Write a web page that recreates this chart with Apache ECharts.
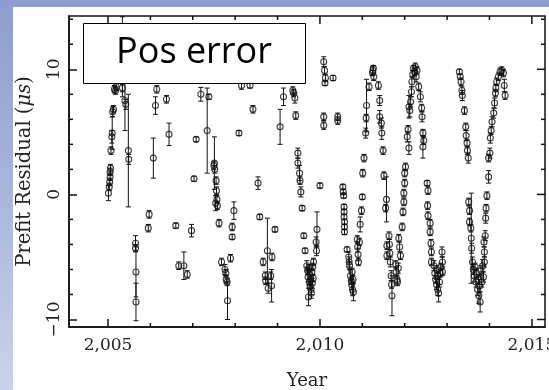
<!DOCTYPE html>
<html>
<head>
<meta charset="utf-8">
<title>Prefit residuals</title>
<script src="https://cdn.jsdelivr.net/npm/echarts@6/dist/echarts.min.js"></script>
<style>
  html, body { margin: 0; padding: 0; }
  #frame {
    position: relative; width: 549px; height: 390px; overflow: hidden;
    background: linear-gradient(to bottom, #8c9dcf 0%, #a9b6dc 50%, #cbd2ea 100%);
  }
  #paper { position: absolute; left: 13px; top: 7px; right: 0; bottom: 0; background: #ffffff; }
  #chart { position: absolute; left: 0; top: 0; width: 549px; height: 390px; }
</style>
</head>
<body>
<div id="frame"><div id="paper"></div><div id="chart"></div></div>
<script>
// Axis ticks and labels
const xMajorTicks = [2005, 2010, 2015];
const xMinorTicks = [2006, 2007, 2008, 2009, 2011, 2012, 2013, 2014];
const yMajorTicks = [-10, 0, 10];
const yMinorTicks = [-8, -6, -4, -2, 2, 4, 6, 8, 12, 14];
const xRange = [2004.08, 2015.31];
const yRange = [-10.6, 14.26];

// Timing residuals per observing season: [year, residual (us), 1-sigma error (us)]
const season2005 = [
  [2005.01, 0.1, 0.6], [2005.03, 0.6, 0.3], [2005.04, 1.0, 0.3], [2005.05, 1.4, 0.3],
  [2005.05, 1.8, 0.3], [2005.06, 2.1, 0.3], [2005.07, 3.5, 0.3], [2005.09, 4.6, 0.5],
  [2005.10, 4.9, 1.3], [2005.11, 6.6, 0.4], [2005.13, 6.8, 0.3], [2005.15, 8.4, 0.3],
  [2005.18, 8.3, 0.3], [2005.19, 8.6, 0.3], [2005.22, 9.6, 0.3], [2005.24, 10.2, 0.3],
  [2005.34, 11.0, 3.2], [2005.34, 8.5, 0.3], [2005.40, 7.5, 2.4], [2005.42, 7.2, 0.4],
  [2005.48, 3.5, 4.5], [2005.49, 2.8, 0.4]
];
const season2006 = [
  [2005.65, -3.9, 0.6], [2005.65, -4.3, 0.3], [2005.66, -6.2, 2.0], [2005.66, -8.6, 1.5],
  [2005.95, -2.7, 0.3], [2005.97, -1.6, 0.3], [2006.07, 2.9, 1.6], [2006.12, 7.1, 0.7],
  [2006.15, 8.4, 0.3], [2006.38, 7.6, 0.3], [2006.44, 4.8, 0.9]
];
const season2007 = [
  [2006.60, -2.5, 0.2], [2006.67, -5.7, 0.3], [2006.79, -5.7, 1.1], [2006.87, -6.4, 0.3],
  [2006.97, -2.9, 0.5], [2007.03, 1.25, 0.2], [2007.08, 4.4, 0.2], [2007.19, 8.0, 0.55],
  [2007.34, 5.1, 3.4], [2007.38, 7.8, 0.2], [2007.50, 2.3, 0.3], [2007.52, 2.0, 0.3],
  [2007.51, 2.5, 2.1]
];
const season2008 = [
  [2007.54, -0.7, 0.6], [2007.55, 1.1, 0.3], [2007.56, 0.3, 0.3], [2007.57, -0.4, 0.3],
  [2007.58, -0.9, 0.3], [2007.62, -2.3, 0.3], [2007.68, -5.4, 0.3], [2007.76, -6.0, 0.4],
  [2007.78, -6.3, 0.3], [2007.79, -6.8, 0.3], [2007.81, -7.0, 0.3], [2007.82, -8.5, 1.5],
  [2007.89, -5.1, 0.3], [2007.93, -2.6, 0.3], [2007.93, -3.4, 0.2], [2007.97, -1.3, 0.7],
  [2008.09, 4.9, 0.2], [2008.15, 8.7, 0.3], [2008.35, 8.7, 0.2], [2008.42, 6.8, 0.3]
];
const season2009 = [
  [2008.54, 0.9, 0.5], [2008.58, -1.8, 0.2], [2008.66, -5.4, 0.3], [2008.71, -6.5, 0.3],
  [2008.72, -6.9, 0.3], [2008.76, -4.5, 2.6], [2008.78, -7.5, 0.4], [2008.84, -6.5, 0.3],
  [2008.86, -7.3, 1.3], [2008.87, -5.0, 0.3], [2008.94, -2.8, 0.2], [2009.06, 5.4, 1.4],
  [2009.14, 7.8, 0.7], [2009.36, 8.3, 0.3], [2009.38, 8.1, 0.3], [2009.41, 7.7, 0.4],
  [2009.43, 6.3, 0.3], [2009.48, 3.3, 0.4], [2009.48, 2.5, 0.4]
];
const season2010 = [
  [2009.52, 1.7, 0.6], [2009.53, 1.1, 0.3], [2009.55, 0.2, 0.4], [2009.58, -1.1, 0.2],
  [2009.62, -3.3, 0.2], [2009.65, -4.5, 0.2], [2009.69, -5.7, 0.4], [2009.71, -6.1, 0.3],
  [2009.72, -6.6, 0.4], [2009.73, -8.2, 0.7], [2009.74, -5.9, 0.3], [2009.75, -7.0, 0.3],
  [2009.76, -6.4, 0.4], [2009.77, -7.3, 0.3], [2009.78, -6.8, 0.3], [2009.79, -7.6, 0.4],
  [2009.80, -7.9, 0.4], [2009.81, -6.2, 0.3], [2009.82, -7.1, 0.4], [2009.83, -5.8, 0.3],
  [2009.84, -6.7, 0.3], [2009.85, -5.4, 0.3], [2009.91, -3.8, 0.4], [2009.92, -4.5, 0.4],
  [2009.93, -2.8, 1.4], [2010.00, 0.7, 0.2], [2010.09, 10.6, 0.4], [2010.11, 9.9, 0.3],
  [2010.13, 9.3, 0.3], [2010.12, 8.9, 0.2], [2010.09, 6.2, 0.3], [2010.09, 5.5, 0.3],
  [2010.31, 9.3, 0.2], [2010.42, 6.2, 0.3], [2010.42, 5.9, 0.3]
];
const season2011 = [
  [2010.54, 0.6, 0.2], [2010.55, 0.2, 0.2], [2010.56, -0.1, 0.2], [2010.57, -1.0, 0.2],
  [2010.57, -1.4, 0.2], [2010.57, -1.8, 0.2], [2010.58, -2.2, 0.2], [2010.58, -2.6, 0.2],
  [2010.58, -3.0, 0.2], [2010.64, -4.4, 0.2], [2010.68, -5.0, 0.4], [2010.69, -5.4, 0.4],
  [2010.70, -5.7, 0.3], [2010.72, -6.5, 0.4], [2010.74, -6.9, 0.3], [2010.75, -7.2, 0.4],
  [2010.76, -6.2, 0.3], [2010.77, -7.6, 0.5], [2010.78, -6.8, 0.3], [2010.79, -7.8, 0.7],
  [2010.88, -3.6, 0.3], [2010.89, -4.2, 0.4], [2010.90, -4.8, 0.5], [2010.91, -5.4, 0.3],
  [2010.93, -3.8, 0.3], [2010.95, -2.4, 0.6], [2010.98, -1.3, 0.3], [2011.00, -0.2, 0.2],
  [2011.01, 1.7, 0.3], [2011.04, 2.9, 0.3], [2011.08, 4.9, 0.4], [2011.09, 6.1, 0.3],
  [2011.10, 7.1, 2.1], [2011.16, 8.6, 0.3], [2011.24, 9.7, 0.2], [2011.25, 9.9, 0.3],
  [2011.26, 10.1, 0.2], [2011.27, 9.4, 0.3], [2011.38, 8.7, 0.3], [2011.41, 7.5, 0.4],
  [2011.41, 6.2, 0.5], [2011.45, 5.7, 0.4], [2011.46, 4.9, 0.5], [2011.49, 3.5, 0.3]
];
const season2012 = [
  [2011.51, 1.5, 0.3], [2011.55, -1.1, 0.3], [2011.57, -0.4, 1.8], [2011.58, -4.1, 0.3],
  [2011.58, -4.9, 0.3], [2011.63, -3.3, 0.3], [2011.64, -4.0, 0.4], [2011.65, -4.7, 0.3],
  [2011.66, -5.4, 0.4], [2011.68, -6.5, 0.4], [2011.69, -7.2, 0.3], [2011.70, -8.1, 1.6],
  [2011.79, -5.6, 0.3], [2011.80, -6.2, 0.4], [2011.82, -6.8, 0.3], [2011.83, -7.0, 0.3],
  [2011.85, -5.9, 0.4], [2011.86, -3.5, 0.3], [2011.88, -4.2, 0.4], [2011.90, -4.9, 0.3],
  [2011.94, -2.6, 0.3], [2011.96, -1.4, 0.3], [2011.98, -0.6, 0.3], [2011.98, 0.1, 0.3],
  [2012.00, 0.9, 0.3], [2012.00, 1.7, 0.3], [2012.02, 2.2, 0.3], [2012.06, 4.6, 0.4],
  [2012.08, 5.2, 0.3], [2012.10, 3.7, 0.5], [2012.10, 7.0, 0.9], [2012.12, 6.7, 0.5],
  [2012.14, 7.4, 0.4], [2012.16, 8.2, 0.4], [2012.17, 9.0, 0.4], [2012.19, 9.6, 0.3],
  [2012.21, 10.1, 0.2], [2012.23, 9.8, 0.3], [2012.25, 10.2, 0.3], [2012.27, 9.4, 0.4],
  [2012.29, 9.9, 0.3], [2012.33, 8.6, 0.3], [2012.37, 7.8, 0.4], [2012.40, 6.9, 0.3],
  [2012.41, 6.2, 0.4], [2012.43, 4.9, 0.3], [2012.43, 3.8, 0.9], [2012.45, 4.3, 0.3]
];
const season2013 = [
  [2012.53, 0.9, 0.2], [2012.55, 0.3, 0.3], [2012.54, -0.9, 0.3], [2012.55, -1.7, 0.3],
  [2012.60, -2.3, 0.3], [2012.60, -3.0, 0.3], [2012.62, -3.9, 0.3], [2012.63, -4.6, 0.3],
  [2012.63, -5.4, 0.3], [2012.69, -5.7, 0.4], [2012.71, -6.3, 0.4], [2012.73, -6.8, 0.3],
  [2012.75, -7.2, 0.4], [2012.76, -6.0, 0.3], [2012.78, -7.6, 0.5], [2012.79, -6.5, 0.3],
  [2012.80, -7.9, 0.7], [2012.82, -7.0, 0.4], [2012.84, -6.3, 0.3], [2012.85, -5.8, 0.3],
  [2012.88, -4.6, 0.4], [2012.89, -5.4, 0.4], [2012.89, -6.2, 0.3], [2013.29, 9.8, 0.2],
  [2013.31, 9.4, 0.2], [2013.33, 9.0, 0.3], [2013.35, 8.3, 0.3], [2013.36, 7.9, 0.4],
  [2013.41, 6.7, 0.3], [2013.44, 5.4, 0.3], [2013.45, 4.7, 0.4], [2013.47, 4.1, 0.3],
  [2013.48, 3.5, 0.3], [2013.50, 2.9, 0.4]
];
const season2014 = [
  [2013.51, -0.6, 0.3], [2013.53, -1.3, 0.3], [2013.53, -2.2, 0.3], [2013.56, -2.7, 0.3],
  [2013.57, -3.5, 3.6], [2013.58, -4.3, 0.4], [2013.60, -5.4, 0.4], [2013.62, -6.0, 0.4],
  [2013.64, -6.5, 0.5], [2013.66, -5.8, 0.3], [2013.68, -7.0, 0.4], [2013.70, -6.3, 0.4],
  [2013.72, -7.6, 0.5], [2013.74, -6.8, 0.4], [2013.75, -8.1, 0.6], [2013.77, -7.3, 0.5],
  [2013.78, -8.6, 0.8], [2013.80, -6.1, 0.4], [2013.82, -7.0, 0.4], [2013.84, -5.7, 0.5],
  [2013.86, -6.6, 0.4], [2013.88, -5.4, 0.4], [2013.87, -3.8, 0.4], [2013.88, -4.6, 0.4],
  [2013.90, -3.3, 0.4], [2013.91, -1.9, 0.4], [2013.92, -1.1, 0.3], [2013.94, -0.1, 0.3],
  [2013.98, 1.4, 0.5], [2013.98, 2.9, 0.3], [2014.01, 3.3, 0.4], [2014.02, 4.5, 0.4],
  [2014.04, 5.1, 0.3], [2014.06, 5.8, 0.4], [2014.10, 6.5, 0.4], [2014.12, 7.3, 0.4],
  [2014.14, 8.1, 0.3], [2014.15, 8.5, 0.3], [2014.17, 9.0, 0.3], [2014.21, 9.4, 0.3],
  [2014.25, 9.8, 0.3], [2014.29, 9.9, 0.3], [2014.33, 9.7, 0.3], [2014.35, 8.7, 0.5],
  [2014.37, 7.9, 0.3]
];

const toas = [].concat(season2005, season2006, season2007, season2008, season2009,
                       season2010, season2011, season2012, season2013, season2014);

const ink = '#111111';
const serif = '"DejaVu Serif", "Liberation Serif", serif';
const W = 549, H = 390;
const box = { left: 69, top: 16, right: 545, bottom: 327 };
const tickStyle = { color: ink, width: 1.5 };

// Tick rows for the frame: [value, tick length, also on bottom/left side (1) or top/right only (0)]
const xFrameTicks = xMinorTicks.map(v => [v, 4, 1]).concat(xMajorTicks.map(v => [v, 8, 0]));
const yFrameTicks = yMinorTicks.map(v => [v, 4, 1]).concat(yMajorTicks.map(v => [v, 8, 0]));

// 1-sigma error bars with short caps
function errorBarItem(params, api) {
  const x = api.value(0), y = api.value(1), e = api.value(2);
  const hi = api.coord([x, y + e]);
  const lo = api.coord([x, y - e]);
  const cap = 2.5;
  const st = { stroke: ink, lineWidth: 1 };
  return {
    type: 'group',
    children: [
      { type: 'line', shape: { x1: hi[0], y1: hi[1], x2: lo[0], y2: lo[1] }, style: st },
      { type: 'line', shape: { x1: hi[0] - cap, y1: hi[1], x2: hi[0] + cap, y2: hi[1] }, style: st },
      { type: 'line', shape: { x1: lo[0] - cap, y1: lo[1], x2: lo[0] + cap, y2: lo[1] }, style: st }
    ]
  };
}

// Inward frame ticks along the top (and bottom for minor ones)
function xTickItem(params, api) {
  const v = api.value(0), len = api.value(1), both = api.value(2);
  const top = api.coord([v, yRange[1]]);
  const bot = api.coord([v, yRange[0]]);
  const st = { stroke: tickStyle.color, lineWidth: tickStyle.width };
  const kids = [{ type: 'line', shape: { x1: top[0], y1: top[1], x2: top[0], y2: top[1] + len }, style: st }];
  if (both) kids.push({ type: 'line', shape: { x1: bot[0], y1: bot[1], x2: bot[0], y2: bot[1] - len }, style: st });
  return { type: 'group', children: kids };
}
// Inward frame ticks along the right (and left for minor ones)
function yTickItem(params, api) {
  const v = api.value(0), len = api.value(1), both = api.value(2);
  const left = api.coord([xRange[0], v]);
  const right = api.coord([xRange[1], v]);
  const st = { stroke: tickStyle.color, lineWidth: tickStyle.width };
  const kids = [{ type: 'line', shape: { x1: right[0], y1: right[1], x2: right[0] - len, y2: right[1] }, style: st }];
  if (both) kids.push({ type: 'line', shape: { x1: left[0], y1: left[1], x2: left[0] + len, y2: left[1] }, style: st });
  return { type: 'group', children: kids };
}

const chart = echarts.init(document.getElementById('chart'), null, { renderer: 'canvas' });

chart.setOption({
  animation: false,
  backgroundColor: 'transparent',
  grid: {
    left: box.left, top: box.top, right: W - box.right, bottom: H - box.bottom,
    outerBoundsMode: 'none', containLabel: false,
    show: true, borderColor: ink, borderWidth: 1.5, backgroundColor: 'transparent'
  },
  xAxis: {
    type: 'value', position: 'bottom', min: xRange[0], max: xRange[1],
    axisLine: { show: true, onZero: false, lineStyle: { color: ink, width: 1.5 } },
    axisTick: { show: true, inside: true, length: 8, customValues: xMajorTicks, lineStyle: tickStyle },
    axisLabel: {
      show: true, customValues: xMajorTicks, margin: 10,
      fontFamily: serif, fontSize: 17, color: '#222'
    },
    splitLine: { show: false },
    name: 'Year', nameLocation: 'middle', nameGap: 45,
    nameTextStyle: { fontFamily: serif, fontSize: 18, color: '#222' }
  },
  yAxis: {
    type: 'value', position: 'left', min: yRange[0], max: yRange[1],
    axisLine: { show: true, onZero: false, lineStyle: { color: ink, width: 1.5 } },
    axisTick: { show: true, inside: true, length: 8, customValues: yMajorTicks, lineStyle: tickStyle },
    axisLabel: {
      show: true, customValues: yMajorTicks, rotate: 90, margin: 6,
      align: 'center', verticalAlign: 'bottom',
      fontFamily: serif, fontSize: 17, color: '#222',
      formatter: v => (v < 0 ? '\u2212' + Math.abs(v) : String(v))
    },
    splitLine: { show: false },
    name: '{n|Prefit Residual (}{i|\u03bcs}{n|)}',
    nameLocation: 'middle', nameGap: 34,
    nameTextStyle: {
      rich: {
        n: { fontFamily: serif, fontSize: 19.5, color: '#222' },
        i: { fontFamily: serif, fontSize: 19.5, fontStyle: 'italic', color: '#222' }
      }
    }
  },
  series: [
    {
      type: 'custom', data: toas, encode: { x: 0, y: 1 }, renderItem: errorBarItem, z: 2
    },
    {
      // open circles at each residual
      type: 'scatter',
      data: toas.map(p => [p[0], p[1]]),
      symbol: 'circle', symbolSize: 6,
      itemStyle: { color: 'rgba(0,0,0,0)', borderColor: ink, borderWidth: 1.1 },
      z: 3
    },
    {
      type: 'custom', silent: true, clip: false,
      data: xFrameTicks.map(t => [t[0], yRange[0], t[1], t[2]]),
      dimensions: ['v', 'y', 'len', 'both'],
      encode: { x: 0, y: 1 },
      renderItem: (params, api) => {
        const v = api.value(0), len = api.value(2), both = api.value(3);
        const top = api.coord([v, yRange[1]]);
        const bot = api.coord([v, yRange[0]]);
        const st = { stroke: tickStyle.color, lineWidth: tickStyle.width };
        const kids = [{ type: 'line', shape: { x1: top[0], y1: top[1], x2: top[0], y2: top[1] + len }, style: st }];
        if (both) kids.push({ type: 'line', shape: { x1: bot[0], y1: bot[1], x2: bot[0], y2: bot[1] - len }, style: st });
        return { type: 'group', children: kids };
      },
      z: 4
    },
    {
      type: 'custom', silent: true, clip: false,
      data: yFrameTicks.map(t => [xRange[0], t[0], t[1], t[2]]),
      dimensions: ['x', 'v', 'len', 'both'],
      encode: { x: 0, y: 1 },
      renderItem: (params, api) => {
        const v = api.value(1), len = api.value(2), both = api.value(3);
        const left = api.coord([xRange[0], v]);
        const right = api.coord([xRange[1], v]);
        const st = { stroke: tickStyle.color, lineWidth: tickStyle.width };
        const kids = [{ type: 'line', shape: { x1: right[0], y1: right[1], x2: right[0] - len, y2: right[1] }, style: st }];
        if (both) kids.push({ type: 'line', shape: { x1: left[0], y1: left[1], x2: left[0] + len, y2: left[1] }, style: st });
        return { type: 'group', children: kids };
      },
      z: 4
    }
  ],
  graphic: [
    {
      type: 'rect', z: 100,
      shape: { x: 83.5, y: 23.5, width: 222, height: 60 },
      style: { fill: '#ffffff', stroke: '#000000', lineWidth: 1 }
    },
    {
      type: 'text', z: 101, x: 194, y: 53,
      style: {
        text: 'Pos error', fill: '#000000',
        font: '36px "Open Sans", "Noto Sans", sans-serif',
        align: 'center', verticalAlign: 'middle'
      }
    }
  ]
});
</script>
</body>
</html>
